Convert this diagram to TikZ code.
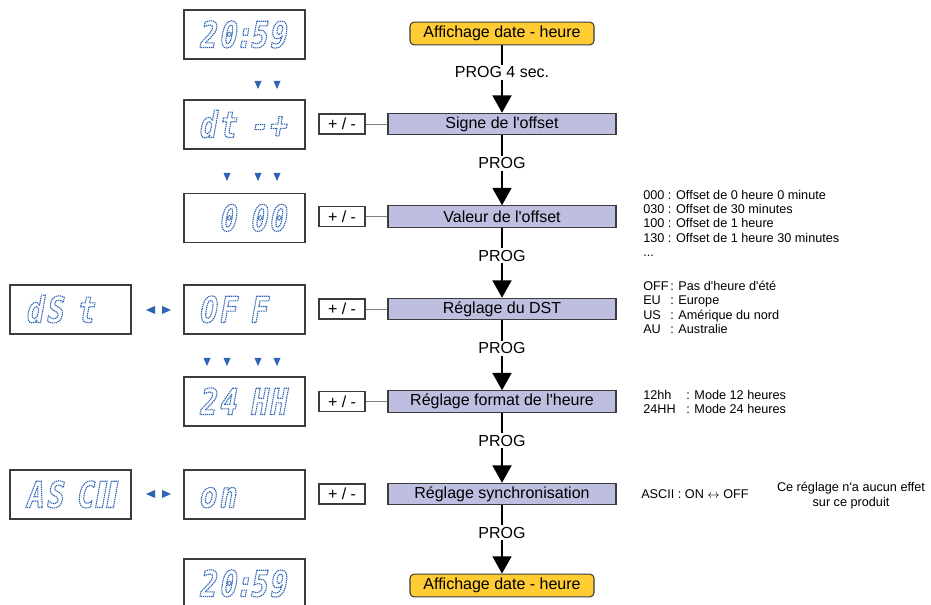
\documentclass[tikz,border=0pt]{standalone}
\usepackage{fontspec}
\setmainfont{Liberation Sans}[Ligatures=TeXOff]
\newfontfamily\lcdfont{DejaVu Sans Mono}[FakeSlant=0.18, FakeStretch=0.8]
\newfontfamily\lcdbar{DejaVu Sans}[FakeSlant=0.18]
\usetikzlibrary{arrows.meta}

\definecolor{lcdblue}{RGB}{45,100,180}
\definecolor{steplav}{RGB}{190,190,224}
\definecolor{infoyel}{RGB}{255,204,51}
\definecolor{framegray}{RGB}{60,60,60}

\tikzset{
  display/.style={draw=framegray, line width=1pt, minimum width=90.75pt, minimum height=36.75pt, inner sep=0pt},
  lcd/.style={text=lcdblue, font=\lcdfont\bfseries\fontsize{27}{27}\selectfont, inner sep=0pt, anchor=base,
    execute at begin node={\special{pdf:code q 1 Tr 0.8 w [1 0.55] 0 d}},
    execute at end node={\special{pdf:code Q}}},
  stepbox/.style={draw=framegray, fill=steplav, line width=0.8pt, minimum width=171pt, minimum height=16pt, inner sep=0pt, font=\fontsize{12}{14}\selectfont},
  startbox/.style={draw=framegray, fill=infoyel, rounded corners=3pt, line width=0.8pt, minimum width=138pt, minimum height=17pt, inner sep=0pt, font=\fontsize{12}{14}\selectfont},
  pmbox/.style={draw=framegray, line width=0.8pt, minimum width=34.5pt, minimum height=15pt, inner sep=0pt, font=\fontsize{12}{14}\selectfont},
  pmlink/.style={draw=gray, line width=0.7pt},
  flow/.style={line width=2pt, -{Triangle[length=13pt,width=14pt]}},
  proglabel/.style={fill=white, inner sep=1.5pt, font=\fontsize{12}{14}\selectfont, pos=0.4},
  note/.style={inner sep=0pt, font=\fontsize{9.5}{11}\selectfont},
}

\begin{document}
\begin{tikzpicture}[x=0.75pt, y=-0.75pt]
  \useasboundingbox (0,0) rectangle (931,605);

  % ----- étapes du menu -----
  \node[startbox] (debut) at (502,33.5) {Affichage date - heure};
  \node[stepbox] (signe) at (502,124) {Signe de l'offset};
  \node[stepbox] (valeur) at (502,216.5) {Valeur de l'offset};
  \node[stepbox] (dst) at (502,309) {Réglage du DST};
  \node[stepbox] (format) at (502,401.5) {Réglage format de l'heure};
  \node[stepbox] (synchro) at (502,494) {Réglage synchronisation};
  \node[startbox] (fin) at (502,585.5) {Affichage date - heure};

  % ----- passage d'une étape à l'autre -----
  \draw[flow] (debut) -- node[proglabel] {PROG 4 sec.} (signe);
  \draw[flow] (signe) -- node[proglabel] {PROG} (valeur);
  \draw[flow] (valeur) -- node[proglabel] {PROG} (dst);
  \draw[flow] (dst) -- node[proglabel] {PROG} (format);
  \draw[flow] (format) -- node[proglabel] {PROG} (synchro);
  \draw[flow] (synchro) -- node[proglabel] {PROG} (fin);

  % ----- touches + / - -----
  \node[pmbox] (pm-signe) at (342,124) {+ / -};
  \node[pmbox] (pm-valeur) at (342,216.5) {+ / -};
  \node[pmbox] (pm-dst) at (342,309) {+ / -};
  \node[pmbox] (pm-format) at (342,401.5) {+ / -};
  \node[pmbox] (pm-synchro) at (342,494) {+ / -};
  \draw[pmlink] (pm-signe) -- (signe);
  \draw[pmlink] (pm-valeur) -- (valeur);
  \draw[pmlink] (pm-dst) -- (dst);
  \draw[pmlink] (pm-format) -- (format);

  % ----- afficheurs -----
  \node[display] (aff-debut) at (244.5,34.5) {};
  \foreach \c/\x [count=\i] in {2/207, 0/227, :/243, 5/258, 9/277}
    \node[lcd] (lcd-debut-\i) at (\x,47.5) {\c};

  \node[display] (aff-signe) at (244.5,124.5) {};
  \foreach \c/\x [count=\i] in {d/207, t/227, -/258, +/277}
    \node[lcd] (lcd-signe-\i) at (\x,137.5) {\c};

  \node[display] (aff-valeur) at (244.5,218) {};
  \foreach \c/\x [count=\i] in {0/227, 0/258, 0/277}
    \node[lcd] (lcd-valeur-\i) at (\x,231) {\c};

  \node[display] (aff-dst) at (244.5,309.5) {};
  \foreach \c/\x [count=\i] in {O/207, F/227, F/258}
    \node[lcd] (lcd-dst-\i) at (\x,322.5) {\c};

  \node[display] (aff-dst-nom) at (70.5,309.5) {};
  \foreach \c/\x [count=\i] in {d/34, S/54, t/85}
    \node[lcd] (lcd-dst-nom-\i) at (\x,322.5) {\c};

  \node[display] (aff-format) at (244.5,401.5) {};
  \foreach \c/\x [count=\i] in {2/207, 4/227, H/258, H/277}
    \node[lcd] (lcd-format-\i) at (\x,414.5) {\c};

  \node[display] (aff-synchro) at (244.5,494.5) {};
  \foreach \c/\x [count=\i] in {o/207, n/227}
    \node[lcd] (lcd-synchro-\i) at (\x,507.5) {\c};

  \node[display] (aff-synchro-nom) at (70.5,494.5) {};
  \foreach \c/\x [count=\i] in {A/34, S/54, C/84}
    \node[lcd] (lcd-synchro-nom-\i) at (\x,507.5) {\c};
  \foreach \x [count=\i] in {99, 110}
    \node[lcd, font=\lcdbar\bfseries\fontsize{27}{27}\selectfont] (lcd-synchro-barre-\i) at (\x,507.5) {I};

  \node[display] (aff-fin) at (244.5,583.5) {};
  \foreach \c/\x [count=\i] in {2/207, 0/227, :/243, 5/258, 9/277}
    \node[lcd] (lcd-fin-\i) at (\x,596.5) {\c};

  % ----- chiffres clignotants -----
  \foreach \x in {258, 277}
    \fill[lcdblue] (\x-3.5,81) -- (\x+3.5,81) -- (\x,89) -- cycle;
  \foreach \x in {227, 258, 277}
    \fill[lcdblue] (\x-3.5,173) -- (\x+3.5,173) -- (\x,181) -- cycle;
  \foreach \x in {207, 227, 258, 277}
    \fill[lcdblue] (\x-3.5,358) -- (\x+3.5,358) -- (\x,366) -- cycle;

  % ----- alternance des affichages -----
  \foreach \y in {310, 494} {
    \fill[lcdblue] (155,\y-4) -- (155,\y+4) -- (146,\y) -- cycle;
    \fill[lcdblue] (162,\y-4) -- (162,\y+4) -- (171,\y) -- cycle;
  }

  % ----- explications -----
  \node[note, anchor=base west] (offset-1) at (643,199.5) {000 : Offset de 0 heure 0 minute};
  \node[note, anchor=base west] (offset-2) at (643,213.7) {030 : Offset de 30 minutes};
  \node[note, anchor=base west] (offset-3) at (643,227.9) {100 : Offset de 1 heure};
  \node[note, anchor=base west] (offset-4) at (643,242.1) {130 : Offset de 1 heure 30 minutes};
  \node[note, anchor=base west] (offset-5) at (643,256.3) {...};

  \foreach \k/\v/\y [count=\i] in {OFF/Pas d'heure d'été/290.5, EU/Europe/305, US/Amérique du nord/319.5, AU/Australie/334} {
    \node[note, anchor=base west] (dst-cle-\i) at (643,\y) {\k};
    \node[note, anchor=base west] (dst-val-\i) at (670,\y) {: \v};
  }

  \node[note, anchor=base west] (format-cle-1) at (643,399.5) {12hh};
  \node[note, anchor=base west] (format-val-1) at (686,399.5) {: Mode 12 heures};
  \node[note, anchor=base west] (format-cle-2) at (643,413.7) {24HH};
  \node[note, anchor=base west] (format-val-2) at (686,413.7) {: Mode 24 heures};

  \node[note, anchor=base west] (ascii) at (641,498.5) {ASCII : ON $\leftrightarrow$ OFF};
  \node[note, align=center, anchor=base] (remarque) at (851,506) {Ce réglage n'a aucun effet\\sur ce produit};
\end{tikzpicture}
\end{document}
